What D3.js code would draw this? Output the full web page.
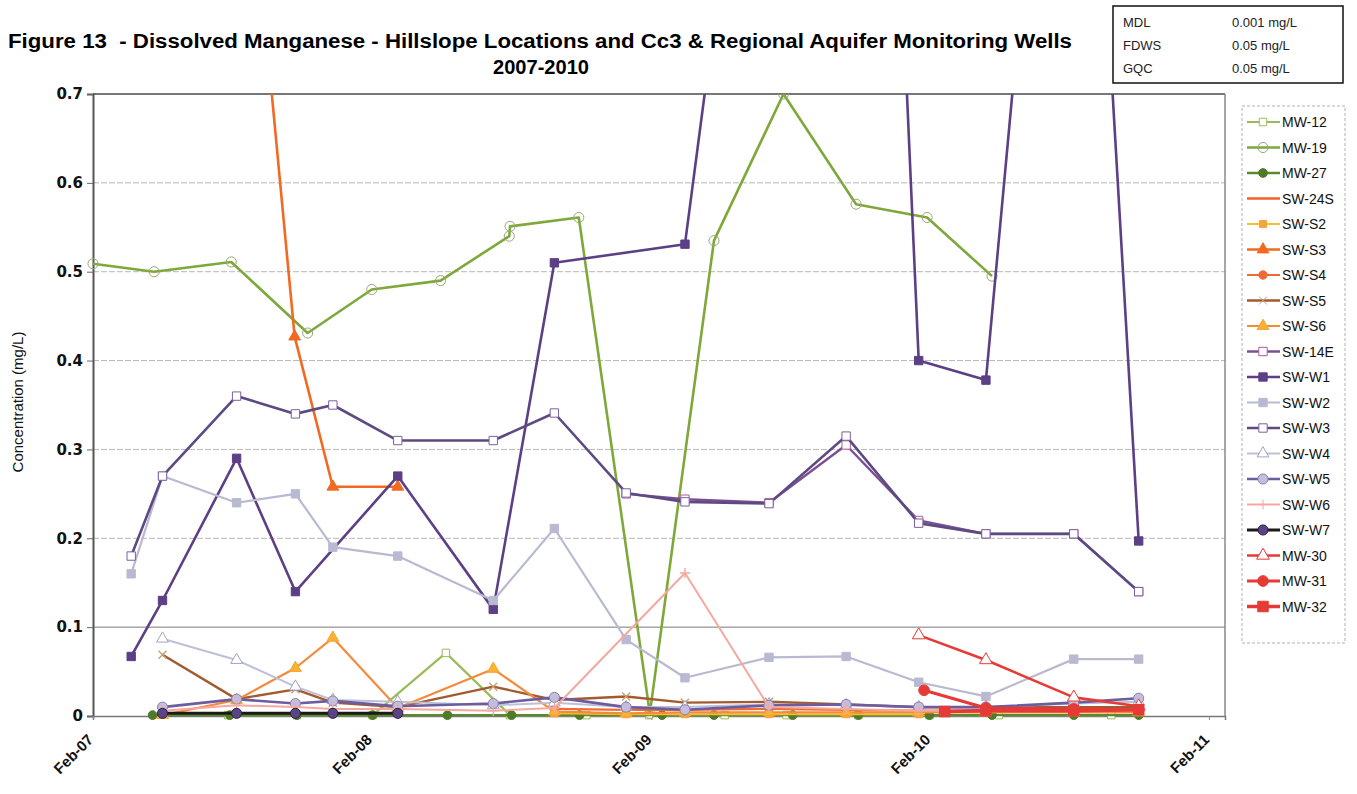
<!DOCTYPE html>
<html>
<head>
<meta charset="utf-8">
<script src="https://cdnjs.cloudflare.com/ajax/libs/d3/7.8.5/d3.min.js"></script>
<style>
  body { margin: 0; background: #fff; }
  svg { display: block; font-family: "Liberation Sans", Arial, sans-serif; }
</style>
</head>
<body>
<svg id="chart" width="1357" height="794"></svg>
<script>
// ---- values (date, mg/L) ----
const seriesNames = ['MW-12', 'MW-19', 'MW-27', 'SW-24S', 'SW-S2', 'SW-S3', 'SW-S4', 'SW-S5', 'SW-S6',
    'SW-14E', 'SW-W1', 'SW-W2', 'SW-W3', 'SW-W4', 'SW-W5', 'SW-W6', 'SW-W7', 'MW-30', 'MW-31', 'MW-32'];

const yTicks = [0, 0.1, 0.2, 0.3, 0.4, 0.5, 0.6, 0.7];
const xTicks = ['2007-02-01', '2008-02-01', '2009-02-01', '2010-02-01', '2011-02-01'];

const mw12 = [['2007-07-28', 0.001], ['2007-10-26', 0.001], ['2008-02-02', 0.001], ['2008-05-08', 0.071],
    ['2008-07-31', 0.001], ['2008-11-08', 0.001], ['2009-01-29', 0.001], ['2009-05-08', 0.001],
    ['2009-07-28', 0.001], ['2009-10-30', 0.001], ['2010-01-31', 0.001], ['2010-05-02', 0.001], ['2010-09-26', 0.001]];
const mw19 = [['2007-02-01', 0.509], ['2007-04-22', 0.50], ['2007-08-01', 0.511], ['2007-11-09', 0.431],
    ['2008-02-01', 0.48], ['2008-05-01', 0.49], ['2008-07-30', 0.54], ['2008-07-31', 0.551], ['2008-10-29', 0.561],
    ['2009-01-30', 0.003], ['2009-04-24', 0.535], ['2009-07-24', 0.70], ['2009-10-27', 0.576],
    ['2010-01-28', 0.561], ['2010-04-23', 0.495]];
const mw27 = [['2007-04-20', 0.001], ['2007-07-30', 0.001], ['2007-10-26', 0.001], ['2008-02-02', 0.001],
    ['2008-05-10', 0.001], ['2008-08-02', 0.001], ['2008-10-30', 0.001], ['2009-02-15', 0.001],
    ['2009-04-24', 0.001], ['2009-08-05', 0.001], ['2009-10-30', 0.001], ['2010-01-31', 0.001],
    ['2010-04-23', 0.001], ['2010-08-08', 0.001], ['2010-11-01', 0.001]];
const sw24s = [];
const swS2 = [['2008-09-27', 0.003], ['2008-12-30', 0.002], ['2009-03-17', 0.002], ['2009-07-05', 0.002],
    ['2009-10-14', 0.002], ['2010-01-17', 0.002]];
const swS3 = [['2007-08-08', 1.12], ['2007-10-23', 0.427], ['2007-12-12', 0.258], ['2008-03-06', 0.258]];
const swS4 = [['2008-09-27', 0.008], ['2008-12-30', 0.007], ['2009-03-17', 0.007], ['2009-07-05', 0.008],
    ['2009-10-14', 0.007], ['2010-01-17', 0.006], ['2010-04-15', 0.006], ['2010-08-08', 0.006], ['2010-11-01', 0.005]];
const swS5 = [['2007-05-03', 0.069], ['2007-08-08', 0.019], ['2007-10-24', 0.03], ['2007-12-12', 0.015],
    ['2008-03-06', 0.01], ['2008-07-09', 0.033], ['2008-09-27', 0.018], ['2008-12-30', 0.022],
    ['2009-03-17', 0.015], ['2009-07-05', 0.016], ['2009-10-14', 0.013], ['2010-01-17', 0.01],
    ['2010-04-15', 0.01], ['2010-08-08', 0.01], ['2010-11-01', 0.01]];
const swS6 = [['2007-05-03', 0.001], ['2007-08-08', 0.018], ['2007-10-24', 0.054], ['2007-12-12', 0.088],
    ['2008-03-06', 0.009], ['2008-07-09', 0.053], ['2008-09-27', 0.005], ['2008-12-30', 0.003],
    ['2009-03-17', 0.004], ['2009-07-05', 0.004], ['2009-10-14', 0.004], ['2010-01-17', 0.004],
    ['2010-04-15', 0.004], ['2010-08-08', 0.004], ['2010-11-01', 0.004]];
const sw14e = [['2008-12-30', 0.25], ['2009-03-17', 0.244], ['2009-07-05', 0.24], ['2009-10-14', 0.305],
    ['2010-01-17', 0.22], ['2010-04-15', 0.205], ['2010-08-08', 0.205], ['2010-11-01', 0.14]];
const swW1 = [['2007-03-23', 0.067], ['2007-05-03', 0.13], ['2007-08-08', 0.29], ['2007-10-24', 0.14],
    ['2008-03-06', 0.27], ['2008-07-09', 0.12], ['2008-09-27', 0.51], ['2009-03-17', 0.531],
    ['2009-04-24', 0.78], ['2009-07-25', 1.5], ['2009-10-27', 2.0], ['2010-01-17', 0.40],
    ['2010-04-15', 0.378], ['2010-08-08', 1.45], ['2010-11-01', 0.197]];
const swW2 = [['2007-03-23', 0.16], ['2007-05-03', 0.27], ['2007-08-08', 0.24], ['2007-10-24', 0.25],
    ['2007-12-12', 0.19], ['2008-03-06', 0.18], ['2008-07-09', 0.13], ['2008-09-27', 0.211],
    ['2008-12-30', 0.086], ['2009-03-17', 0.043], ['2009-07-05', 0.066], ['2009-10-14', 0.067],
    ['2010-01-17', 0.038], ['2010-04-15', 0.022], ['2010-08-08', 0.064], ['2010-11-01', 0.064]];
const swW3 = [['2007-03-23', 0.18], ['2007-05-03', 0.27], ['2007-08-08', 0.36], ['2007-10-24', 0.34],
    ['2007-12-12', 0.35], ['2008-03-06', 0.31], ['2008-07-09', 0.31], ['2008-09-27', 0.341],
    ['2008-12-30', 0.251], ['2009-03-17', 0.241], ['2009-07-05', 0.239], ['2009-10-14', 0.315],
    ['2010-01-17', 0.217], ['2010-04-15', 0.205], ['2010-08-08', 0.205], ['2010-11-01', 0.14]];
const swW4 = [['2007-05-03', 0.087], ['2007-08-08', 0.063], ['2007-10-24', 0.033], ['2007-12-12', 0.018],
    ['2008-03-06', 0.016], ['2008-07-09', 0.012], ['2008-09-27', 0.015], ['2008-12-30', 0.01],
    ['2009-03-17', 0.01], ['2009-07-05', 0.013], ['2009-10-14', 0.012], ['2010-01-17', 0.01],
    ['2010-04-15', 0.01], ['2010-08-08', 0.014], ['2010-11-01', 0.016]];
const swW5 = [['2007-05-03', 0.01], ['2007-08-08', 0.019], ['2007-10-24', 0.014], ['2007-12-12', 0.017],
    ['2008-03-06', 0.011], ['2008-07-09', 0.014], ['2008-09-27', 0.021], ['2008-12-30', 0.01],
    ['2009-03-17', 0.007], ['2009-07-05', 0.012], ['2009-10-14', 0.013], ['2010-01-17', 0.01],
    ['2010-04-15', 0.01], ['2010-08-08', 0.015], ['2010-11-01', 0.02]];
const swW6 = [['2007-05-03', 0.006], ['2007-08-08', 0.012], ['2007-10-24', 0.01], ['2007-12-12', 0.008],
    ['2008-03-06', 0.008], ['2008-07-09', 0.006], ['2008-09-27', 0.009], ['2009-03-17', 0.161],
    ['2009-07-05', 0.01], ['2009-10-14', 0.008], ['2010-01-17', 0.006], ['2010-04-15', 0.006],
    ['2010-08-08', 0.008], ['2010-11-01', 0.006]];
const swW7 = [['2007-05-03', 0.003], ['2007-08-08', 0.003], ['2007-10-24', 0.003], ['2007-12-12', 0.003],
    ['2008-03-06', 0.003]];
const mw30 = [['2010-01-17', 0.091], ['2010-04-15', 0.063], ['2010-08-08', 0.021], ['2010-11-01', 0.011]];
const mw31 = [['2010-01-24', 0.029], ['2010-04-15', 0.009], ['2010-08-08', 0.008], ['2010-11-01', 0.007]];
const mw32 = [['2010-02-20', 0.005], ['2010-04-15', 0.006], ['2010-08-08', 0.006], ['2010-11-01', 0.007]];

const seriesValues = [mw12, mw19, mw27, sw24s, swS2, swS3, swS4, swS5, swS6, sw14e,
    swW1, swW2, swW3, swW4, swW5, swW6, swW7, mw30, mw31, mw32];

const limitLabels = ['MDL', 'FDWS', 'GQC'];
const limitValues = ['0.001 mg/L', '0.05 mg/L', '0.05 mg/L'];

// ---- look of each series (kept apart from the values) ----
const styles = {
    'MW-12':  { color: '#9bbb59', marker: 'square',   fill: '#fff',    stroke: '#9bbb59', width: 2.2, size: 56 },
    'MW-19':  { color: '#7fa83a', marker: 'circle',   fill: 'none',    stroke: '#9aa67a', width: 2.6, size: 80 },
    'MW-27':  { color: '#5b8a2e', marker: 'circle',   fill: '#4f7a28', stroke: '#4f7a28', width: 2.4, size: 60 },
    'SW-24S': { color: '#f0612e', marker: 'none',     width: 2.4 },
    'SW-S2':  { color: '#f6c02c', marker: 'square',   fill: '#f7a540', stroke: '#f7a540', width: 2, size: 50 },
    'SW-S3':  { color: '#f26a22', marker: 'triangle', fill: '#f26a22', stroke: '#f26a22', width: 2.6, size: 60 },
    'SW-S4':  { color: '#ef6a35', marker: 'circle',   fill: '#ef6a35', stroke: '#ef6a35', width: 2.2, size: 55 },
    'SW-S5':  { color: '#a35a2e', marker: 'x',        fill: 'none',    stroke: '#c9a070', width: 2.4 },
    'SW-S6':  { color: '#f58a3a', marker: 'triangle', fill: '#f9b233', stroke: '#f9a233', width: 2.2, size: 60 },
    'SW-14E': { color: '#7b4f93', marker: 'square',   fill: '#fff',    stroke: '#b05aa0', width: 2.4, size: 70 },
    'SW-W1':  { color: '#5d3f86', marker: 'square',   fill: '#5d3f86', stroke: '#5d3f86', width: 2.6, size: 70 },
    'SW-W2':  { color: '#b9b9d2', marker: 'square',   fill: '#b9b9d2', stroke: '#b9b9d2', width: 2.2, size: 70 },
    'SW-W3':  { color: '#5e4a82', marker: 'square',   fill: '#fff',    stroke: '#7b5f9f', width: 2.6, size: 70 },
    'SW-W4':  { color: '#bcc0d8', marker: 'triangle', fill: '#fff',    stroke: '#a0a4c4', width: 2, size: 60 },
    'SW-W5':  { color: '#6d5c9e', marker: 'circle',   fill: '#c4bedb', stroke: '#8a80b0', width: 2.6, size: 80 },
    'SW-W6':  { color: '#f5a8a0', marker: 'plus',     fill: 'none',    stroke: '#f5a8a0', width: 2 },
    'SW-W7':  { color: '#1a1a1a', marker: 'circle',   fill: '#5a4485', stroke: '#2a2040', width: 3, size: 80 },
    'MW-30':  { color: '#e63a36', marker: 'triangle', fill: '#fff',    stroke: '#e63a36', width: 2.6, size: 70 },
    'MW-31':  { color: '#e63a36', marker: 'circle',   fill: '#e63a36', stroke: '#e63a36', width: 3, size: 90 },
    'MW-32':  { color: '#e63a36', marker: 'square',   fill: '#e63a36', stroke: '#e63a36', width: 3.6, size: 110 }
};

const parseDate = d3.timeParse('%Y-%m-%d');

var Fig = Fig || {};
Fig.ManganeseChart = {
    init: function() {
        const svg = d3.select('#chart');
        this.x = d3.scaleTime()
            .domain([parseDate('2007-02-01'), parseDate('2011-02-22')])
            .range([93, 1225]);
        this.y = d3.scaleLinear().domain([0, 0.7]).range([716, 94]);

        this.drawHeader(svg);
        this.drawAxes(svg);
        this.drawSeries(svg);
        this.drawLegend(svg);
    },

    markerPath: function(style) {
        switch (style.marker) {
            case 'square': return d3.symbol(d3.symbolSquare, style.size)();
            case 'circle': return d3.symbol(d3.symbolCircle, style.size)();
            case 'triangle': return d3.symbol(d3.symbolTriangle, style.size)();
            case 'x': return 'M-4,-4L4,4M-4,4L4,-4';
            case 'plus': return 'M-5,0L5,0M0,-5L0,5';
            default: return null;
        }
    },

    drawHeader: function(svg) {
        svg.append('text')
            .attr('x', 8).attr('y', 48)
            .attr('xml:space', 'preserve')
            .attr('font-size', 20).attr('font-weight', 'bold')
            .attr('textLength', 1064).attr('lengthAdjust', 'spacingAndGlyphs')
            .text('Figure 13  - Dissolved Manganese - Hillslope Locations and Cc3 & Regional Aquifer Monitoring Wells');
        svg.append('text')
            .attr('x', 541).attr('y', 74)
            .attr('text-anchor', 'middle')
            .attr('font-size', 20).attr('font-weight', 'bold')
            .attr('textLength', 96).attr('lengthAdjust', 'spacingAndGlyphs')
            .text('2007-2010');

        // detection / standard box
        svg.append('rect')
            .attr('x', 1113).attr('y', 6).attr('width', 230).attr('height', 77)
            .attr('fill', '#fff').attr('stroke', '#111').attr('stroke-width', 1.5);
        limitLabels.forEach((lab, i) => {
            svg.append('text').attr('x', 1123).attr('y', 27 + i * 23)
                .attr('font-size', 13).attr('fill', '#222').text(lab);
            svg.append('text').attr('x', 1232).attr('y', 27 + i * 23)
                .attr('font-size', 13).attr('fill', '#222').text(limitValues[i]);
        });
    },

    drawAxes: function(svg) {
        const x = this.x, y = this.y;

        // gridlines
        svg.append('g').selectAll('line')
            .data(yTicks.filter(d => d > 0 && d < 0.7))
            .enter().append('line')
            .attr('x1', 93).attr('x2', 1225)
            .attr('y1', d => y(d)).attr('y2', d => y(d))
            .attr('stroke', d => d === 0.1 ? '#7a7a7a' : '#b8b8b8')
            .attr('stroke-width', 1)
            .attr('stroke-dasharray', d => d === 0.1 ? null : '6,2');

        // plot frame
        svg.append('line').attr('x1', 93).attr('x2', 1225).attr('y1', 94).attr('y2', 94)
            .attr('stroke', '#777').attr('stroke-width', 2);
        svg.append('line').attr('x1', 1225).attr('x2', 1225).attr('y1', 94).attr('y2', 716)
            .attr('stroke', '#888').attr('stroke-width', 1.5);

        const yAxis = svg.append('g')
            .attr('transform', 'translate(93,0)')
            .call(d3.axisLeft(y).tickValues(yTicks).tickSize(6).tickPadding(4)
                .tickFormat(d => d === 0 ? '0' : d.toFixed(1)));
        yAxis.select('.domain').attr('stroke', '#555').attr('stroke-width', 2);
        yAxis.selectAll('.tick line').attr('stroke', '#666');
        yAxis.selectAll('text')
            .attr('font-family', '"DejaVu Sans", Verdana, sans-serif')
            .attr('font-weight', 'bold').attr('font-size', 15).attr('fill', '#111');

        const xAxis = svg.append('g')
            .attr('transform', 'translate(0,716)')
            .call(d3.axisBottom(x).tickValues(xTicks.map(parseDate)).tickSize(4)
                .tickFormat(d3.timeFormat('%b-%y')));
        xAxis.select('.domain').attr('stroke', '#777').attr('stroke-width', 1.5);
        xAxis.selectAll('.tick line').attr('stroke', '#888');
        xAxis.selectAll('text')
            .attr('x', 0).attr('y', 0).attr('dy', '0.35em')
            .attr('text-anchor', 'end')
            .attr('transform', 'translate(-3,21) rotate(-45)')
            .attr('font-weight', 'bold').attr('font-size', 15).attr('fill', '#111');

        svg.append('text')
            .attr('transform', 'translate(23,402) rotate(-90)')
            .attr('text-anchor', 'middle')
            .attr('font-size', 15).attr('fill', '#111')
            .text('Concentration (mg/L)');
    },

    drawSeries: function(svg) {
        const x = this.x, y = this.y;

        svg.append('clipPath').attr('id', 'plotClip')
            .append('rect').attr('x', 80).attr('y', 94).attr('width', 1150).attr('height', 650);

        const line = d3.line()
            .x(d => x(parseDate(d[0])))
            .y(d => y(d[1]));

        const layer = svg.append('g').attr('clip-path', 'url(#plotClip)');

        seriesNames.forEach((name, i) => {
            const st = styles[name];
            const rows = seriesValues[i];
            const g = layer.append('g');

            g.append('path')
                .datum(rows)
                .attr('d', line)
                .attr('fill', 'none')
                .attr('stroke', st.color)
                .attr('stroke-width', st.width)
                .attr('stroke-linejoin', 'round');

            const shape = this.markerPath(st);
            if (!shape) return;
            g.selectAll('path.mk')
                .data(rows)
                .enter().append('path')
                .attr('class', 'mk')
                .attr('d', shape)
                .attr('transform', d => `translate(${x(parseDate(d[0]))},${y(d[1])})`)
                .attr('fill', st.fill)
                .attr('stroke', st.stroke)
                .attr('stroke-width', st.marker === 'x' || st.marker === 'plus' ? 1.4 : 1);
        });
    },

    drawLegend: function(svg) {
        svg.append('rect')
            .attr('x', 1242).attr('y', 106).attr('width', 103).attr('height', 537)
            .attr('fill', '#fff').attr('stroke', '#b0b0b0').attr('stroke-dasharray', '3,2');

        const item = svg.append('g').selectAll('g')
            .data(seriesNames)
            .enter().append('g')
            .attr('transform', (d, i) => `translate(0,${122 + i * 25.5})`);

        item.append('line')
            .attr('x1', 1247).attr('x2', 1280)
            .attr('stroke', d => styles[d].color)
            .attr('stroke-width', d => styles[d].width);

        item.each((d, i, nodes) => {
            const st = styles[d];
            const shape = this.markerPath(st);
            if (!shape) return;
            d3.select(nodes[i]).append('path')
                .attr('d', shape)
                .attr('transform', 'translate(1263,0)')
                .attr('fill', st.fill)
                .attr('stroke', st.stroke)
                .attr('stroke-width', 1);
        });

        item.append('text')
            .attr('x', 1282).attr('y', 5)
            .attr('font-size', 14).attr('fill', '#111')
            .text(d => d);
    }
};

Fig.ManganeseChart.init();
</script>
</body>
</html>
